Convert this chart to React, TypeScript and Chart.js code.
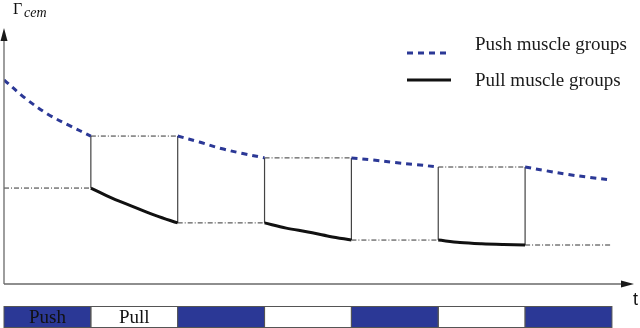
import React, { useEffect, useRef } from "react";
import { Chart, registerables } from "chart.js";

Chart.register(...registerables);

// ---- data ----
const sampleOffsets = [0, 0.25, 0.5, 0.75, 1];
const pushStarts = [0, 2, 4, 6];
const pushValues = [
  [7.85, 7.13, 6.54, 6.1, 5.69],
  [5.69, 5.46, 5.21, 5.02, 4.85],
  [4.85, 4.77, 4.67, 4.59, 4.5],
  [4.5, 4.35, 4.21, 4.1, 4.0],
];
const pullStarts = [1, 3, 5];
const pullValues = [
  [3.69, 3.29, 2.96, 2.63, 2.35],
  [2.35, 2.15, 2.0, 1.83, 1.69],
  [1.69, 1.6, 1.55, 1.52, 1.5],
];
const blockPhases = ["Push", "Pull", "Push", "Pull", "Push", "Pull", "Push"];
const blockLabels = ["Push", "Pull", "", "", "", "", ""];
const legendLabels = ["Push muscle groups", "Pull muscle groups"];
const yTitle = "Γ";
const ySub = "cem";
const xTitle = "t";

const BLUE = "#2b3896";

type P = { x: number; y: number | null };

function segPoints(starts: number[], values: number[][]): P[] {
  const pts: P[] = [];
  starts.forEach((s, i) => {
    sampleOffsets.forEach((o, j) => pts.push({ x: s + o, y: values[i][j] }));
    pts.push({ x: s + 1.001, y: null });
  });
  return pts;
}

function refLines() {
  // horizontal dash-dot holding levels and vertical switch lines
  const pushEnd = pushValues.map((v) => v[v.length - 1]);
  const pullEnd = pullValues.map((v) => v[v.length - 1]);
  const horiz: P[] = [];
  const vert: P[] = [];
  for (let b = 0; b < blockPhases.length; b++) {
    let level: number;
    if (blockPhases[b] === "Push") {
      const k = b / 2;
      level = k === 0 ? pullValues[0][0] : pullEnd[k - 1];
    } else {
      level = pushEnd[(b - 1) / 2];
    }
    horiz.push({ x: b, y: level }, { x: b + 1, y: level }, { x: b + 1, y: null });
  }
  for (let t = 1; t < blockPhases.length; t++) {
    let top: number, bot: number;
    if (t % 2 === 1) {
      top = pushEnd[(t - 1) / 2];
      bot = pullValues[(t - 1) / 2][0];
    } else {
      top = pushValues[t / 2][0];
      bot = pullEnd[t / 2 - 1];
    }
    vert.push({ x: t, y: top }, { x: t, y: bot }, { x: t, y: null });
  }
  return { horiz, vert };
}

const decorPlugin = {
  id: "decor",
  afterDraw(chart: any) {
    const ctx: CanvasRenderingContext2D = chart.ctx;
    const xs = chart.scales.x;
    const ys = chart.scales.y;
    const x0 = xs.getPixelForValue(0);
    const y0 = ys.getPixelForValue(0);
    ctx.save();
    // axes
    ctx.strokeStyle = "#6a6a6a";
    ctx.lineWidth = 1.3;
    ctx.beginPath();
    ctx.moveTo(x0, y0);
    ctx.lineTo(x0, 38);
    ctx.moveTo(x0, y0);
    ctx.lineTo(624, y0);
    ctx.stroke();
    ctx.fillStyle = "#1a1a1a";
    ctx.beginPath();
    ctx.moveTo(x0, 28);
    ctx.lineTo(x0 - 3.5, 41);
    ctx.lineTo(x0 + 3.5, 41);
    ctx.closePath();
    ctx.fill();
    ctx.beginPath();
    ctx.moveTo(634, y0);
    ctx.lineTo(621, y0 - 3.5);
    ctx.lineTo(621, y0 + 3.5);
    ctx.closePath();
    ctx.fill();
    // axis titles
    ctx.fillStyle = "#111";
    ctx.font = "16px 'Liberation Serif'";
    ctx.textBaseline = "alphabetic";
    ctx.textAlign = "left";
    ctx.fillText(yTitle, 13, 14);
    ctx.font = "italic 14px 'Liberation Serif'";
    ctx.fillText(ySub, 24, 17);
    ctx.font = "18px 'Liberation Sans'";
    ctx.fillText(xTitle, 633, 305);

    // legend
    const lx0 = 407, lx1 = 451;
    ctx.lineWidth = 3;
    ctx.strokeStyle = BLUE;
    ctx.setLineDash([6, 5]);
    ctx.beginPath();
    ctx.moveTo(lx0, 53);
    ctx.lineTo(lx1, 53);
    ctx.stroke();
    ctx.setLineDash([]);
    ctx.strokeStyle = "#111";
    ctx.beginPath();
    ctx.moveTo(lx0, 80);
    ctx.lineTo(lx1, 80);
    ctx.stroke();
    ctx.fillStyle = "#1a1a1a";
    ctx.font = "19px 'Liberation Serif'";
    ctx.fillText(legendLabels[0], 475, 50);
    ctx.fillText(legendLabels[1], 475, 86);

    // bottom phase bar
    const top = 306.5, bot = 327.5;
    blockPhases.forEach((ph, i) => {
      const a = xs.getPixelForValue(i);
      const b = xs.getPixelForValue(i + 1);
      if (ph === "Push") {
        ctx.fillStyle = BLUE;
        ctx.fillRect(a, top, b - a, bot - top);
      }
      ctx.strokeStyle = "#555";
      ctx.lineWidth = 1;
      ctx.strokeRect(a, top, b - a, bot - top);
      if (blockLabels[i]) {
        ctx.fillStyle = "#111";
        ctx.font = "19px 'Liberation Serif'";
        ctx.textAlign = "center";
        ctx.fillText(blockLabels[i], (a + b) / 2, 323);
        ctx.textAlign = "left";
      }
    });
    ctx.restore();
  },
};

export default function App() {
  const ref = useRef<HTMLCanvasElement>(null);
  useEffect(() => {
    document.body.style.margin = "0";
    const { horiz, vert } = refLines();
    const chart = new Chart(ref.current!, {
      type: "line",
      data: {
        datasets: [
          {
            label: legendLabels[0],
            data: segPoints(pushStarts, pushValues) as any,
            borderColor: BLUE,
            borderWidth: 3,
            borderDash: [6, 5],
            pointRadius: 0,
            tension: 0.35,
            spanGaps: false,
            order: 0,
          },
          {
            label: legendLabels[1],
            data: segPoints(pullStarts, pullValues) as any,
            borderColor: "#111",
            borderWidth: 3,
            pointRadius: 0,
            tension: 0.35,
            spanGaps: false,
            order: 0,
          },
          {
            label: "hold",
            data: horiz as any,
            borderColor: "#333",
            borderWidth: 1,
            borderDash: [5, 2, 1, 2],
            pointRadius: 0,
            tension: 0,
            spanGaps: false,
            order: 2,
          },
          {
            label: "switch",
            data: vert as any,
            borderColor: "#444",
            borderWidth: 1.2,
            pointRadius: 0,
            tension: 0,
            spanGaps: false,
            order: 2,
          },
        ],
      },
      options: {
        responsive: false,
        animation: false,
        layout: { padding: { left: 4, right: 2, top: 24, bottom: 44 } },
        plugins: { legend: { display: false }, tooltip: { enabled: false } },
        scales: {
          x: { type: "linear", min: 0, max: 7.3, display: false },
          y: { type: "linear", min: 0, max: 10, display: false },
        },
      },
      plugins: [decorPlugin],
    });
    return () => chart.destroy();
  }, []);
  return (
    <div style={{ position: "absolute", left: 0, top: 0, width: 640, height: 328 }}>
      <canvas ref={ref} width={640} height={328} />
    </div>
  );
}
